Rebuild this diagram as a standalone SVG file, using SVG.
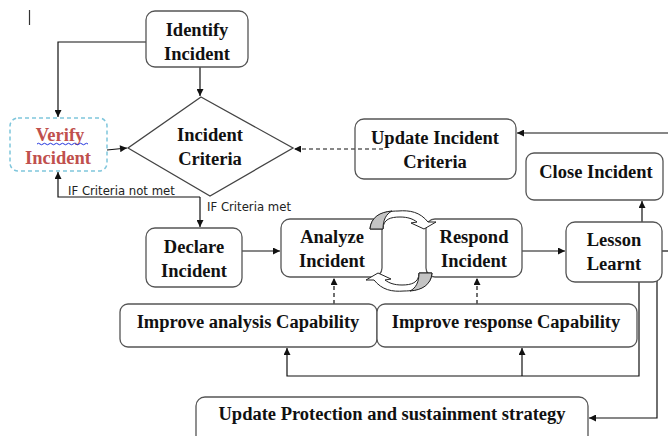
<svg xmlns="http://www.w3.org/2000/svg" width="668" height="436" viewBox="0 0 668 436">
<style>
.box{fill:#fff;stroke:#555;stroke-width:1.3}
.t{font-family:"Liberation Serif","Times New Roman",serif;font-weight:bold;font-size:18.5px;text-anchor:middle;fill:#111}
.red{fill:#c0504d}
.lbl{font-family:"DejaVu Sans",sans-serif;font-size:11.7px;fill:#222}
.ln{fill:none;stroke:#111;stroke-width:1.2}
.dash{stroke-dasharray:4,3}
.cyc{fill:#fff;stroke:#222;stroke-width:1}
.cycg{fill:#c4c4c4;stroke:#222;stroke-width:1}
</style>
<defs>
<marker id="ah" viewBox="0 0 10 10" refX="10" refY="5" markerWidth="8" markerHeight="7" orient="auto" markerUnits="userSpaceOnUse">
<path d="M0,0 L10,5 L0,10 z" fill="#111"/>
</marker>
</defs>
<line x1="29.5" y1="10" x2="29.5" y2="25" stroke="#333" stroke-width="1.2"/>
<g id="connectors">
<path class="ln" d="M200,67 V96" marker-end="url(#ah)"/>
<path class="ln" d="M146,42 H58 V117" marker-end="url(#ah)"/>
<path class="ln" d="M107,150 L127,148" marker-end="url(#ah)"/>
<path class="ln" d="M200,197 H58 V172" marker-end="url(#ah)"/>
<path class="ln" d="M200,197 V227" marker-end="url(#ah)"/>
<path class="ln" d="M242,251 H280" marker-end="url(#ah)"/>
<path class="ln" d="M522,251 H565" marker-end="url(#ah)"/>
<path class="ln" d="M642,226 V201" marker-end="url(#ah)"/>
<path class="ln" d="M662,251 H668"/>
<path class="ln" d="M668,133 H517" marker-end="url(#ah)"/>
<path class="ln dash" d="M383,149 H294" marker-end="url(#ah)"/>
<path class="ln dash" d="M334,304 V278" marker-end="url(#ah)"/>
<path class="ln dash" d="M477,304 V278" marker-end="url(#ah)"/>
<path class="ln" d="M639,274 V376 H287 V348" marker-end="url(#ah)"/>
<path class="ln" d="M522,376 V348" marker-end="url(#ah)"/>
<path class="ln" d="M657,275 V418 H589" marker-end="url(#ah)"/>
</g>
<text class="lbl" x="68" y="195">IF Criteria not met</text>
<text class="lbl" x="207" y="211">IF Criteria met</text>
<g id="identify">
<rect class="box" x="146" y="11" width="102" height="56" rx="9"/>
<text class="t" x="197" y="36">Identify</text>
<text class="t" x="197" y="60">Incident</text>
</g>
<g id="verify">
<rect x="10" y="118" width="97" height="53" rx="8" fill="#fff" stroke="#7fc6dc" stroke-width="1.5" stroke-dasharray="4,3"/>
<text class="t red" x="60" y="141">Verify</text>
<path d="M37,144 q1.5,-1.5 3,0 t3,0 t3,0 t3,0 t3,0 t3,0 t3,0 t3,0 t3,0 t3,0 t3,0 t3,0 t3,0 t3,0 t3,0 t3,0 t3,0" fill="none" stroke="#2233dd" stroke-width="1"/>
<text class="t red" x="58" y="164">Incident</text>
</g>
<g id="criteria">
<polygon points="201,97 293,148 210,196 128,148" fill="#fff" stroke="#444" stroke-width="1.3"/>
<text class="t" x="210" y="141">Incident</text>
<text class="t" x="210" y="165">Criteria</text>
</g>
<g id="update-criteria">
<rect class="box" x="355" y="119" width="161" height="60" rx="9"/>
<text class="t" x="435" y="144">Update Incident</text>
<text class="t" x="435" y="168">Criteria</text>
</g>
<path class="ln dash" d="M383,149 H356"/>
<g id="close">
<rect class="box" x="526" y="153" width="137" height="47" rx="8"/>
<text class="t" x="596" y="178">Close Incident</text>
</g>
<g id="declare">
<rect class="box" x="146" y="228" width="96" height="59" rx="9"/>
<text class="t" x="194" y="253">Declare</text>
<text class="t" x="194" y="277">Incident</text>
</g>
<g id="analyze">
<rect class="box" x="281" y="219" width="101" height="58" rx="9"/>
<text class="t" x="332" y="243">Analyze</text>
<text class="t" x="332" y="267">Incident</text>
</g>
<g id="respond">
<rect class="box" x="426" y="219" width="96" height="58" rx="9"/>
<text class="t" x="474" y="243">Respond</text>
<text class="t" x="474" y="267">Incident</text>
</g>
<g id="lesson">
<rect class="box" x="566" y="222" width="96" height="60" rx="9"/>
<text class="t" x="614" y="246">Lesson</text>
<text class="t" x="614" y="270">Learnt</text>
</g>
<g id="improve-analysis">
<rect class="box" x="120" y="304" width="257" height="43" rx="8"/>
<text class="t" x="248" y="328">Improve analysis Capability</text>
</g>
<g id="improve-response">
<rect class="box" x="377" y="304" width="260" height="43" rx="8"/>
<text class="t" x="506" y="328">Improve response Capability</text>
</g>
<g id="update-protection">
<rect class="box" x="196" y="397" width="392" height="50" rx="9"/>
<text class="t" x="392" y="420">Update Protection and sustainment strategy</text>
</g>
<g id="cycle">
<g id="cycle-top">
<path class="cyc" d="M383,229 C383,219 391,217 400,217 C408,217 413,219 417,222 L411,223 L424,229 L436,222 L428,222 C420,212 410,210 398,211 C385,211 371,215 370,229 Z"/>
<path class="cycg" d="M370,229 C371,217 380,212 392,211 C386,214 383,220 383,229 Z"/>
</g>
<g transform="rotate(180 401 251)">
<path class="cyc" d="M383,229 C383,219 391,217 400,217 C408,217 413,219 417,222 L411,223 L424,229 L436,222 L428,222 C420,212 410,210 398,211 C385,211 371,215 370,229 Z"/>
<path class="cycg" d="M370,229 C371,217 380,212 392,211 C386,214 383,220 383,229 Z"/>
</g>
</g>
</svg>
